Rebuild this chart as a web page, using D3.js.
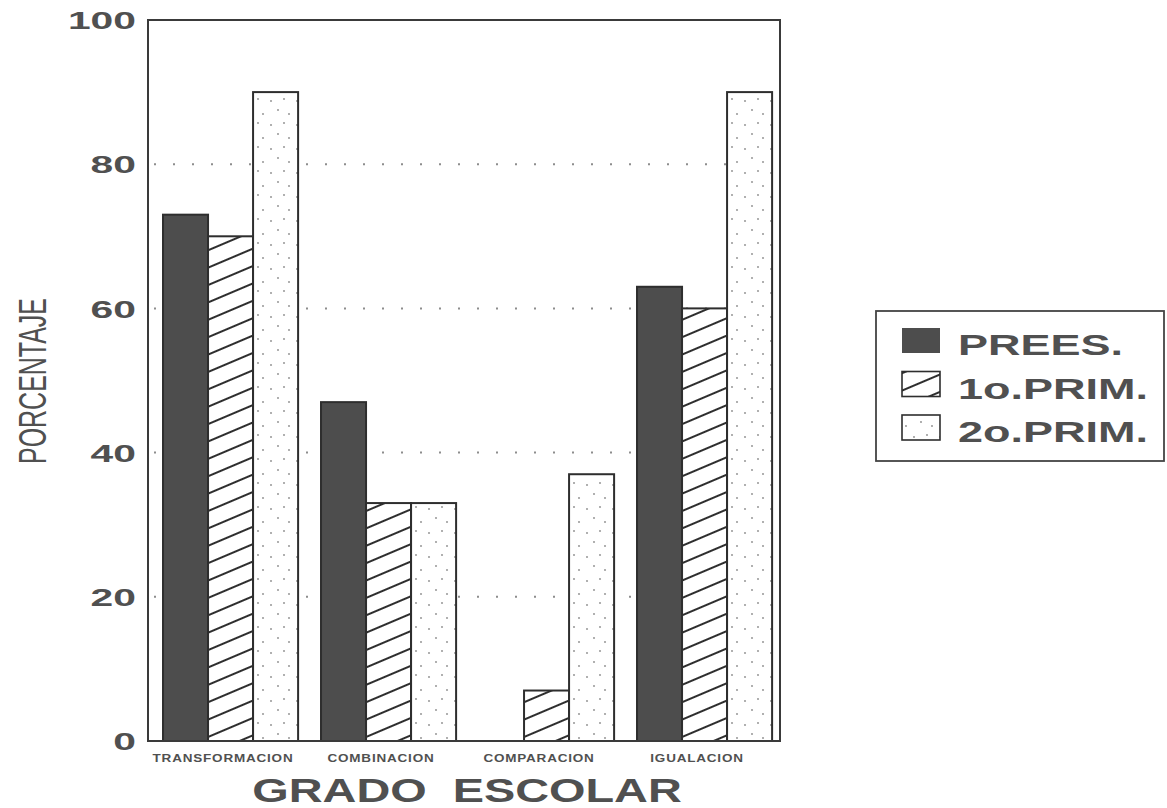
<!DOCTYPE html>
<html>
<head>
<meta charset="utf-8">
<script src="https://cdn.jsdelivr.net/npm/d3@7"></script>
<style>
  html, body { margin: 0; padding: 0; background: #fff; }
  svg { display: block; }
  text { font-family: "Liberation Sans", Arial, sans-serif; fill: #505050; }
</style>
</head>
<body>
<svg id="chart" width="1167" height="808"></svg>
<script>
// ---- data ----
const categories = ["TRANSFORMACION", "COMBINACION", "COMPARACION", "IGUALACION"];
const seriesNames = ["PREES.", "1o.PRIM.", "2o.PRIM."];
const prees = [73, 47, 0, 63];
const prim1 = [70, 33, 7, 60];
const prim2 = [90, 33, 37, 90];
const yTicks = [0, 20, 40, 60, 80, 100];
const yTitle = "PORCENTAJE";
const xTitle = "GRADO  ESCOLAR";

(function () {
const seriesValues = [prees, prim1, prim2];
const rows = categories.map((c, i) => ({
  cat: c,
  vals: seriesNames.map((s, j) => ({ s, v: seriesValues[j][i] }))
}));

const svg = d3.select("#chart");
const defs = svg.append("defs");

// hatch pattern
const hatch = defs.append("pattern")
  .attr("id", "hatch").attr("patternUnits", "userSpaceOnUse")
  .attr("width", 40).attr("height", 16)
  .attr("patternTransform", "rotate(-23)");
hatch.append("rect").attr("width", 40).attr("height", 16).attr("fill", "#fff");
hatch.append("line").attr("x1", 0).attr("x2", 40).attr("y1", 8).attr("y2", 8)
  .attr("stroke", "#2e2e2e").attr("stroke-width", 2);

// dotted pattern
const dots = defs.append("pattern")
  .attr("id", "dots").attr("patternUnits", "userSpaceOnUse")
  .attr("width", 26).attr("height", 24);
dots.append("rect").attr("width", 26).attr("height", 24).attr("fill", "#fff");
[[4, 5], [17, 3], [11, 14], [22, 18]].forEach(([cx, cy]) =>
  dots.append("circle").attr("cx", cx).attr("cy", cy).attr("r", 0.9).attr("fill", "#8a8a8a"));

const fills = { "PREES.": "#4d4d4d", "1o.PRIM.": "url(#hatch)", "2o.PRIM.": "url(#dots)" };

// ---- scales ----
const pLeft = 148, pRight = 780, pTop = 20, pBottom = 741;
const x0 = d3.scaleBand().domain(categories).range([pLeft, pRight]);
const groupOffset = x0.bandwidth() * 0.095;
const x1 = d3.scaleBand().domain(seriesNames).range([0, x0.bandwidth() * 0.855]);
const y = d3.scaleLinear().domain([0, 100]).range([pBottom, pTop]);

// ---- gridlines ----
svg.append("g").selectAll("line")
  .data(yTicks.filter(t => t > 0 && t < 100))
  .join("line")
  .attr("x1", pLeft + 6).attr("x2", pRight - 6)
  .attr("y1", d => y(d)).attr("y2", d => y(d))
  .attr("stroke", "#8d8d8d").attr("stroke-width", 2)
  .attr("stroke-dasharray", "2,17");

// ---- bars ----
const groups = svg.append("g").selectAll("g")
  .data(rows).join("g")
  .attr("transform", d => `translate(${x0(d.cat) + groupOffset},0)`);

groups.selectAll("rect")
  .data(d => d.vals.filter(v => v.v > 0))
  .join("rect")
  .attr("x", d => x1(d.s))
  .attr("width", x1.bandwidth())
  .attr("y", d => y(d.v))
  .attr("height", d => y(0) - y(d.v))
  .attr("fill", d => fills[d.s])
  .attr("stroke", "#2e2e2e")
  .attr("stroke-width", 2);

// ---- frame ----
svg.append("rect")
  .attr("x", pLeft).attr("y", pTop)
  .attr("width", pRight - pLeft).attr("height", pBottom - pTop)
  .attr("fill", "none").attr("stroke", "#3a3a3a").attr("stroke-width", 2);

// ---- y axis ----
const sxTick = 1.7;
const yAxis = svg.append("g")
  .attr("transform", `translate(${pLeft},0)`)
  .call(d3.axisLeft(y).tickValues(yTicks).tickSize(0).tickFormat(d3.format("d")));
yAxis.select(".domain").remove();
yAxis.selectAll("text")
  .attr("x", -12 / sxTick)
  .attr("dy", "0.36em")
  .attr("transform", `scale(${sxTick},1)`)
  .style("font-size", "24px")
  .style("font-weight", "bold")
  .style("font-family", "'Liberation Sans', Arial, sans-serif")
  .attr("fill", "#505050");

// ---- x axis (category labels) ----
const sxCat = 1.35;
const xAxis = svg.append("g")
  .attr("transform", `translate(0,${pBottom})`)
  .call(d3.axisBottom(x0).tickSize(0));
xAxis.select(".domain").remove();
xAxis.selectAll(".tick")
  .attr("transform", d => `translate(${x0(d) + x0.bandwidth() / 2 - 4},0)`);
xAxis.selectAll("text")
  .attr("y", 21).attr("dy", 0)
  .attr("transform", `scale(${sxCat},1)`)
  .style("font-size", "10px")
  .style("font-weight", "bold")
  .style("letter-spacing", "0.6px")
  .style("font-family", "'Liberation Sans', Arial, sans-serif")
  .attr("fill", "#505050");

// ---- titles ----
svg.append("text")
  .attr("transform", `translate(${(pLeft + pRight) / 2 + 3},802) scale(1.42,1)`)
  .attr("text-anchor", "middle")
  .style("font-size", "33px")
  .style("font-weight", "bold")
  .style("white-space", "pre")
  .attr("xml:space", "preserve")
  .text(xTitle);

svg.append("text")
  .attr("transform", `translate(46,381) rotate(-90)`)
  .attr("text-anchor", "middle")
  .attr("textLength", 166)
  .attr("lengthAdjust", "spacingAndGlyphs")
  .style("font-size", "38px")
  .text(yTitle);

// ---- legend ----
const lg = svg.append("g");
lg.append("rect")
  .attr("x", 876).attr("y", 311).attr("width", 288).attr("height", 150)
  .attr("fill", "#fff").attr("stroke", "#444").attr("stroke-width", 1.8);

const ly = d3.scalePoint().domain(seriesNames).range([340, 427]);
const items = lg.selectAll("g.item").data(seriesNames).join("g").attr("class", "item");
items.append("rect")
  .attr("x", 902).attr("width", 38)
  .attr("y", d => ly(d) - 12).attr("height", 25)
  .attr("fill", d => fills[d])
  .attr("stroke", "#2e2e2e").attr("stroke-width", d => d === "PREES." ? 0 : 1.6);
items.append("text")
  .attr("transform", d => `translate(958,${ly(d) + 15}) scale(1.5,1)`)
  .style("font-size", "30px")
  .style("font-weight", "bold")
  .text(d => d);
})();
</script>
</body>
</html>
